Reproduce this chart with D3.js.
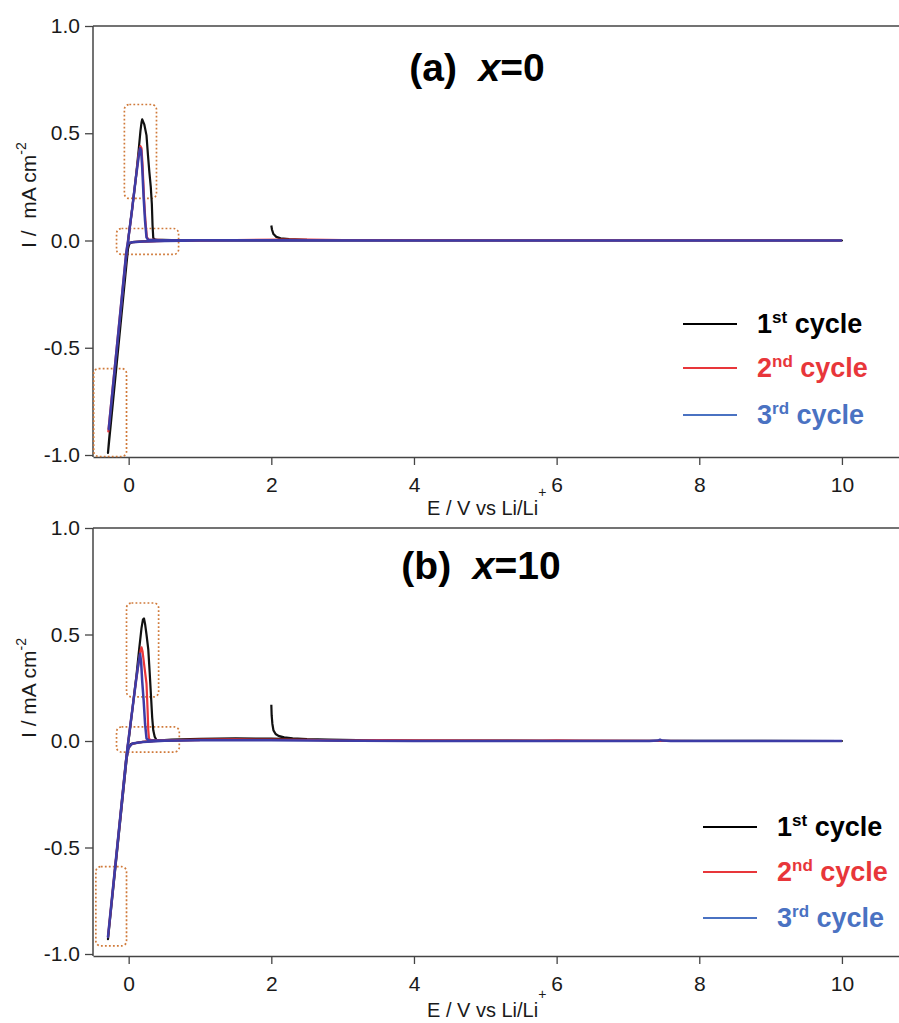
<!DOCTYPE html>
<html>
<head>
<meta charset="utf-8">
<script src="https://cdn.jsdelivr.net/npm/d3@7"></script>
<style>
  body { margin: 0; background: #fff; }
  svg { display: block; font-family: "Liberation Sans", Arial, sans-serif; }
</style>
</head>
<body>
<svg id="chart" width="899" height="1023"></svg>
<script>
// ticks
const xTicks = [0, 2, 4, 6, 8, 10];
const yTicks = [-1, -0.5, 0, 0.5, 1];

// (a) x=0, [E (V), I (mA cm-2)]
const cycle1_a = [[2.0,0.07],[2.01,0.05],[2.03,0.03],[2.07,0.017],[2.13,0.01],[2.25,0.006],[2.5,0.003],[3,0.001],[5,0],[10,0],[5,0],[2,0],[1,0.001],[0.5,-0.001],[0.2,-0.004],[0.05,-0.008],[0.01,-0.015],[-0.01,-0.04],[-0.29,-0.99],[-0.275,-0.93],[-0.03,-0.09],[-0.015,-0.03],[0.0,0.02],[0.05,0.15],[0.1,0.29],[0.14,0.42],[0.165,0.51],[0.18,0.55],[0.19,0.565],[0.22,0.54],[0.25,0.49],[0.27,0.4],[0.29,0.32],[0.31,0.25],[0.325,0.17],[0.335,0.07],[0.345,0.012],[0.37,0.004],[0.6,0.002],[1.0,0.001],[2.0,0]];
const cycle2_a = [[10,0],[6,0],[3,0.002],[2.5,0.004],[2.2,0.004],[1.5,0.002],[0.5,-0.002],[0.2,-0.005],[0.05,-0.008],[0,-0.012],[-0.02,-0.025],[-0.035,-0.06],[-0.285,-0.89],[-0.27,-0.84],[-0.04,-0.09],[-0.02,-0.03],[0.0,0.02],[0.05,0.15],[0.1,0.29],[0.14,0.4],[0.165,0.44],[0.18,0.43],[0.195,0.35],[0.215,0.2],[0.235,0.09],[0.255,0.015],[0.28,0.004],[0.5,0.002],[1,0.002],[2,0.002],[10,0]];
const cycle3_a = [[10,0],[8,0],[6,0],[4,0],[2,0],[1,0],[0.5,-0.002],[0.2,-0.005],[0.05,-0.008],[0,-0.012],[-0.02,-0.025],[-0.035,-0.06],[-0.28,-0.88],[-0.27,-0.85],[-0.04,-0.09],[-0.02,-0.03],[0.0,0.02],[0.05,0.15],[0.1,0.29],[0.14,0.39],[0.16,0.43],[0.175,0.42],[0.19,0.34],[0.21,0.2],[0.23,0.09],[0.25,0.015],[0.27,0.004],[0.4,0.002],[0.8,0.001],[2,0.001],[4,0],[10,0]];

// (b) x=10
const cycle1_b = [[2.0,0.17],[2.005,0.12],[2.015,0.08],[2.03,0.05],[2.06,0.033],[2.1,0.024],[2.18,0.017],[2.3,0.013],[2.5,0.009],[2.8,0.006],[3.2,0.004],[4,0.002],[6,0.001],[10,0],[6,0],[3,0.003],[2.4,0.008],[2.0,0.011],[1.5,0.012],[1.0,0.01],[0.6,0.006],[0.35,0.001],[0.15,-0.006],[0.03,-0.015],[-0.01,-0.04],[-0.03,-0.09],[-0.29,-0.93],[-0.275,-0.88],[-0.04,-0.1],[-0.015,-0.03],[0.01,0.03],[0.06,0.17],[0.11,0.31],[0.15,0.44],[0.18,0.53],[0.2,0.57],[0.215,0.575],[0.23,0.55],[0.25,0.5],[0.275,0.43],[0.295,0.32],[0.315,0.2],[0.33,0.11],[0.345,0.05],[0.365,0.02],[0.39,0.005],[0.5,0.002],[0.8,0.004],[1.2,0.007]];
const cycle2_b = [[10,0],[8,0],[6.3,0.002],[6.0,0.003],[5.8,0.002],[4.0,0.003],[3.5,0.004],[3.0,0.002],[2.5,0.005],[2.0,0.006],[1.5,0.008],[1.0,0.007],[0.5,0.003],[0.2,-0.004],[0.05,-0.012],[0,-0.03],[-0.03,-0.08],[-0.29,-0.92],[-0.275,-0.87],[-0.04,-0.1],[-0.02,-0.04],[0.01,0.04],[0.06,0.17],[0.11,0.3],[0.15,0.39],[0.17,0.43],[0.18,0.44],[0.195,0.42],[0.22,0.35],[0.25,0.27],[0.265,0.15],[0.275,0.05],[0.285,0.01],[0.32,0.004],[0.6,0.003],[1.0,0.004]];
const cycle3_b = [[10,0],[7.6,0],[7.48,0.002],[7.45,0.006],[7.42,0.002],[7.3,0],[6,0],[4,0],[2.5,0.002],[2,0.003],[1.5,0.004],[1.0,0.003],[0.5,0.001],[0.2,-0.005],[0.05,-0.012],[0,-0.03],[-0.03,-0.08],[-0.29,-0.92],[-0.275,-0.87],[-0.04,-0.1],[-0.02,-0.04],[0.01,0.04],[0.06,0.17],[0.11,0.3],[0.14,0.37],[0.16,0.41],[0.175,0.37],[0.19,0.28],[0.21,0.19],[0.23,0.08],[0.25,0.012],[0.28,0.004],[0.5,0.002],[1,0.002]];

// dotted boxes in data units [E0, E1, I0, I1]
const boxes_a = [[-0.06, 0.39, 0.196, 0.634], [-0.17, 0.70, -0.065, 0.056], [-0.49, -0.03, -1.007, -0.597]];
const boxes_b = [[-0.03, 0.42, 0.207, 0.648], [-0.17, 0.71, -0.052, 0.066], [-0.46, -0.03, -0.962, -0.59]];

const legendSup = ["st", "nd", "rd"];
const legendNum = ["1", "2", "3"];
const lineColours = ["#111111", "#e8363a", "#3d3ca6"];
const legendColours = ["#000000", "#e8363a", "#4a72c2"];

const svg = d3.select("#chart");
const font = "\"Liberation Sans\", Arial, sans-serif";

function drawPanel(cfg) {
    const x = d3.scaleLinear().domain([-0.5, 10.8]).range([93, 899]);
    const y = d3.scaleLinear().domain([-1, 1]).range(cfg.yRange);
    const axisY = y(-1) + 2;
    const g = svg.append("g");

    // frame: top line + left axis line
    g.append("line").attr("x1", x(-0.5)).attr("x2", x(10.8)).attr("y1", y(1)).attr("y2", y(1))
        .attr("stroke", "#444").attr("stroke-width", 1.5);
    g.append("line").attr("x1", x(-0.5)).attr("x2", x(-0.5)).attr("y1", y(1)).attr("y2", axisY)
        .attr("stroke", "#444").attr("stroke-width", 1.5);

    const xa = g.append("g").attr("transform", `translate(0,${axisY})`)
        .call(d3.axisBottom(x).tickValues(xTicks).tickSize(8).tickSizeOuter(0).tickPadding(12).tickFormat(d3.format("d")));
    xa.select(".domain").attr("stroke", "#444").attr("stroke-width", 1.5);
    xa.selectAll(".tick line").attr("stroke", "#444").attr("stroke-width", 1.3);
    xa.selectAll("text").attr("font-size", 21).attr("font-family", font).attr("fill", "#1a1a1a");

    const ya = g.append("g").attr("transform", `translate(${x(-0.5)},0)`)
        .call(d3.axisLeft(y).tickValues(yTicks).tickSize(8).tickSizeOuter(0).tickPadding(5).tickFormat(d => d.toFixed(1)));
    ya.select(".domain").remove();
    ya.selectAll(".tick line").attr("stroke", "#444").attr("stroke-width", 1.3);
    ya.selectAll("text").attr("font-size", 21).attr("font-family", font).attr("fill", "#1a1a1a");

    // axis labels
    const yl = g.append("text").attr("transform", `translate(36,${cfg.yLabelStart}) rotate(-90)`)
        .attr("font-size", 21).attr("fill", "#1a1a1a").style("white-space", "pre");
    yl.append("tspan").text(cfg.yLabel);
    yl.append("tspan").text("-2").attr("font-size", 14).attr("dy", -10);

    const xl = g.append("text").attr("x", 427).attr("y", axisY + cfg.xLabelOffset)
        .attr("font-size", 20).attr("fill", "#1a1a1a");
    xl.append("tspan").text("E / V vs Li/Li");
    xl.append("tspan").text("+").attr("font-size", 14).attr("dy", -18);

    // title
    const t = g.append("text").attr("x", cfg.titleX).attr("y", cfg.titleY).attr("text-anchor", "middle")
        .attr("font-size", 39).attr("font-weight", "bold").attr("fill", "#000").style("white-space", "pre");
    t.append("tspan").text(cfg.titleA + "  ");
    t.append("tspan").text("x").attr("font-style", "italic");
    t.append("tspan").text("=" + cfg.titleB);

    // dotted boxes
    g.selectAll("rect.box").data(cfg.boxes).join("rect").attr("class", "box")
        .attr("x", d => x(d[0])).attr("y", d => y(d[3]))
        .attr("width", d => x(d[1]) - x(d[0])).attr("height", d => y(d[2]) - y(d[3]))
        .attr("rx", 5).attr("fill", "none").attr("stroke", "#d07a3a")
        .attr("stroke-width", 1.7).attr("stroke-dasharray", "1.8,2.2");

    // curves
    const line = d3.line().x(d => x(d[0])).y(d => y(d[1]));
    g.selectAll("path.cv").data(cfg.series).join("path").attr("class", "cv")
        .attr("d", line).attr("fill", "none")
        .attr("stroke", (d, i) => lineColours[i])
        .attr("stroke-width", (d, i) => i === 2 ? 2.5 : 2.2)
        .attr("stroke-linejoin", "round");

    // legend
    const lg = g.append("g");
    legendNum.forEach((n, i) => {
        const ly = cfg.legendY[i];
        lg.append("line").attr("x1", cfg.legendX).attr("x2", cfg.legendX + 54)
            .attr("y1", ly).attr("y2", ly).attr("stroke", legendColours[i]).attr("stroke-width", 2.2);
        const lt = lg.append("text").attr("x", cfg.legendX + 74).attr("y", ly + 9)
            .attr("font-size", 27).attr("font-weight", "bold").attr("fill", legendColours[i]).style("white-space", "pre");
        lt.append("tspan").text(n);
        lt.append("tspan").text(legendSup[i]).attr("font-size", 17).attr("dy", -10);
        lt.append("tspan").text(" cycle").attr("dy", 10);
    });
}

drawPanel({
    yRange: [455, 26], series: [cycle1_a, cycle2_a, cycle3_a], boxes: boxes_a,
    titleA: "(a)", titleB: "0", titleX: 477, titleY: 81,
    yLabel: "I /  mA cm", yLabelStart: 248, xLabelOffset: 58,
    legendX: 683, legendY: [324, 368, 415]
});
drawPanel({
    yRange: [954, 528], series: [cycle1_b, cycle2_b, cycle3_b], boxes: boxes_b,
    titleA: "(b)", titleB: "10", titleX: 481, titleY: 579,
    yLabel: "I / mA cm", yLabelStart: 738, xLabelOffset: 61,
    legendX: 703, legendY: [827, 872, 918]
});
</script>
</body>
</html>
